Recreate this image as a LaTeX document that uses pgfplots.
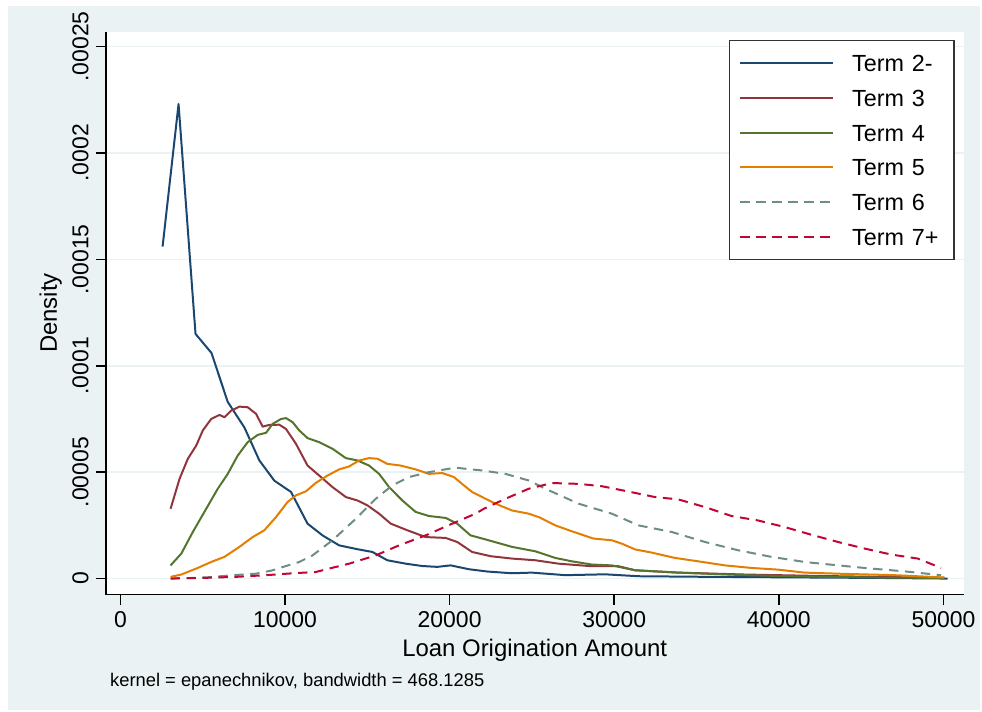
\documentclass[border=0pt]{standalone}
\usepackage{fontspec}
\setmainfont{Liberation Sans}
\usepackage{pgfplots}
\usepackage{pgfplotstable}
\pgfplotsset{compat=1.18}

% Stata s2color palette
\definecolor{stnavy}{RGB}{26,71,111}
\definecolor{stmaroon}{RGB}{144,53,59}
\definecolor{stgreen}{RGB}{85,117,47}
\definecolor{storange}{RGB}{227,126,0}
\definecolor{stteal}{RGB}{110,142,132}
\definecolor{stcran}{RGB}{193,5,52}
\definecolor{stbg}{RGB}{234,242,243}

% Kernel density estimates of loan origination amount, by term
\pgfplotstableread{
x y
2563 15.6e-5
3533 22.3e-5
4563 11.5e-5
5533 10.6e-5
6521 8.3e-5
7533 7.1e-5
8442 5.55e-5
9352 4.6e-5
10363 4.07e-5
11369 2.58e-5
12278 2.03e-5
13290 1.56e-5
14399 1.38e-5
15308 1.25e-5
16217 0.86e-5
17332 0.70e-5
18338 0.59e-5
19247 0.55e-5
20059 0.62e-5
21168 0.44e-5
22300 0.33e-5
23790 0.25e-5
25000 0.28e-5
27030 0.16e-5
29450 0.20e-5
31470 0.11e-5
35910 0.08e-5
41970 0.05e-5
46000 0.03e-5
50260 0.0
}\termtwo

\pgfplotstableread{
x y
3048 3.28e-5
3594 4.69e-5
4097 5.63e-5
4606 6.25e-5
5006 6.96e-5
5515 7.50e-5
6018 7.69e-5
6321 7.58e-5
6727 7.89e-5
7230 8.08e-5
7733 8.05e-5
8242 7.74e-5
8642 7.14e-5
9048 7.22e-5
9654 7.23e-5
10060 7.03e-5
10666 6.33e-5
11369 5.31e-5
12078 4.84e-5
12884 4.30e-5
13696 3.83e-5
14399 3.67e-5
15005 3.44e-5
15714 3.05e-5
16423 2.58e-5
17429 2.27e-5
18544 1.95e-5
19756 1.91e-5
20459 1.72e-5
21368 1.25e-5
22500 1.05e-5
23790 0.94e-5
25210 0.86e-5
26620 0.70e-5
28640 0.58e-5
30260 0.58e-5
31270 0.39e-5
33890 0.28e-5
37940 0.19e-5
41970 0.13e-5
46010 0.08e-5
50050 0.03e-5
}\termthree

\pgfplotstableread{
x y
3048 0.62e-5
3697 1.17e-5
4400 2.19e-5
5212 3.28e-5
5915 4.22e-5
6521 4.92e-5
7127 5.78e-5
7733 6.41e-5
8339 6.75e-5
8848 6.85e-5
9248 7.27e-5
9757 7.50e-5
10060 7.54e-5
10460 7.35e-5
10866 6.96e-5
11369 6.60e-5
12078 6.41e-5
12884 6.10e-5
13696 5.66e-5
14399 5.55e-5
15108 5.31e-5
15714 4.92e-5
16320 4.30e-5
17126 3.67e-5
17938 3.13e-5
18744 2.94e-5
19756 2.85e-5
20459 2.58e-5
21271 2.03e-5
22180 1.84e-5
23790 1.49e-5
25210 1.28e-5
26420 0.97e-5
27430 0.81e-5
28640 0.66e-5
29850 0.62e-5
31270 0.39e-5
33890 0.28e-5
37940 0.16e-5
41970 0.09e-5
46000 0.05e-5
50050 0.03e-5
}\termfour

\pgfplotstableread{
x y
3048 0.08e-5
3697 0.19e-5
4606 0.47e-5
5515 0.78e-5
6321 1.02e-5
7230 1.49e-5
8036 1.95e-5
8745 2.27e-5
9454 2.89e-5
10157 3.60e-5
10666 3.91e-5
11272 4.10e-5
11878 4.50e-5
12581 4.84e-5
13290 5.13e-5
13896 5.27e-5
14502 5.55e-5
15108 5.66e-5
15611 5.63e-5
16217 5.39e-5
17029 5.31e-5
17938 5.13e-5
18744 4.92e-5
19550 4.96e-5
20259 4.77e-5
20865 4.38e-5
21368 4.07e-5
22180 3.75e-5
22790 3.52e-5
23790 3.20e-5
24800 3.05e-5
25410 2.89e-5
26420 2.50e-5
27430 2.22e-5
28740 1.88e-5
29850 1.80e-5
30460 1.64e-5
31270 1.37e-5
32280 1.22e-5
33690 0.97e-5
35110 0.81e-5
36720 0.62e-5
38340 0.50e-5
39950 0.42e-5
41570 0.28e-5
44000 0.22e-5
47030 0.16e-5
50050 0.05e-5
}\termfive

\pgfplotstableread{
x y
3048 0.01e-5
4500 0.03e-5
5500 0.07e-5
6824 0.16e-5
8242 0.23e-5
9200 0.38e-5
10060 0.59e-5
10866 0.78e-5
11672 1.09e-5
12884 1.80e-5
14302 2.81e-5
15514 3.75e-5
16520 4.38e-5
17532 4.77e-5
18744 5.00e-5
19956 5.16e-5
20500 5.20e-5
20968 5.16e-5
21974 5.08e-5
23390 4.92e-5
24800 4.61e-5
25820 4.22e-5
27830 3.52e-5
29850 3.05e-5
31470 2.50e-5
33490 2.19e-5
35510 1.72e-5
37530 1.33e-5
39550 1.02e-5
41570 0.78e-5
43590 0.62e-5
45610 0.47e-5
47630 0.34e-5
49850 0.16e-5
}\termsix

\pgfplotstableread{
x y
3048 0.00
5000 0.03e-5
7000 0.08e-5
8848 0.16e-5
10500 0.25e-5
11878 0.31e-5
12684 0.47e-5
13896 0.70e-5
15514 1.09e-5
16926 1.56e-5
18544 2.03e-5
20156 2.58e-5
21574 3.05e-5
22080 3.28e-5
23390 3.75e-5
24800 4.22e-5
26220 4.49e-5
27830 4.45e-5
29250 4.34e-5
30860 4.09e-5
32480 3.83e-5
33890 3.72e-5
35510 3.36e-5
37120 2.94e-5
38740 2.73e-5
40360 2.42e-5
41970 2.06e-5
43590 1.72e-5
45210 1.41e-5
46820 1.13e-5
48440 0.94e-5
49850 0.50e-5
}\termseven

\begin{document}
\begin{tikzpicture}
% page and graph region
\fill[white] (0,0) rectangle (491pt,-356.5pt);
\fill[stbg] (4pt,-3pt) rectangle (491pt,-356pt);
\begin{axis}[
  at={(53pt,-298pt)}, anchor=south west,
  scale only axis, width=430pt, height=282.15pt,
  axis background/.style={fill=white},
  xmin=-891, xmax=51225,
  ymin=-0.75e-5, ymax=25.7e-5,
  axis x line*=bottom, axis y line*=left,
  axis line style={black, line width=0.8pt},
  tick style={black, line width=0.8pt},
  tick align=outside, major tick length=5pt,
  xtick={0,10000,20000,30000,40000,50000},
  xticklabels={0,10000,20000,30000,40000,50000},
  ytick={0,5e-5,10e-5,15e-5,20e-5,25e-5},
  yticklabels={0,.00005,.0001,.00015,.0002,.00025},
  scaled x ticks=false, scaled y ticks=false,
  /pgf/number format/assume math mode=true,
  xticklabel style={font=\fontsize{11.5}{13}\selectfont},
  yticklabel style={font=\fontsize{11.5}{13}\selectfont, rotate=90, anchor=south},
  ymajorgrids, grid style={stbg, line width=0.75pt},
  xlabel={Loan Origination Amount},
  ylabel={Density},
  xlabel style={font=\fontsize{12}{14}\selectfont, at={(axis description cs:0.5,-0.1099)}, anchor=base},
  ylabel style={font=\fontsize{12}{14}\selectfont, at={(axis description cs:-0.057,0.5)}, rotate=0, anchor=base},
  every axis plot/.append style={line width=1pt, line join=round},
  legend image code/.code={\draw[#1] (0pt,0pt) -- (46.5pt,0pt);},
  legend cell align=left,
  legend style={at={(axis description cs:0.9895,0.9853)}, anchor=north east,
    draw=black!80, line width=0.7pt, fill=white,
    inner xsep=5pt, inner ysep=7.2pt, row sep=9pt, column sep=9pt,
    nodes={inner sep=0pt, text height=8.4pt, text depth=0pt, anchor=west,
      text width=46pt, font=\fontsize{11.7}{14}\selectfont}},
]
\addplot[stnavy] table[x=x,y=y] {\termtwo};
\addlegendentry{Term 2-}
\addplot[stmaroon] table[x=x,y=y] {\termthree};
\addlegendentry{Term 3}
\addplot[stgreen] table[x=x,y=y] {\termfour};
\addlegendentry{Term 4}
\addplot[storange] table[x=x,y=y] {\termfive};
\addlegendentry{Term 5}
\addplot[stteal, dash pattern=on 4.7pt off 3.3pt] table[x=x,y=y] {\termsix};
\addlegendentry{Term 6}
\addplot[stcran, dash pattern=on 4.7pt off 3.3pt] table[x=x,y=y] {\termseven};
\addlegendentry{Term 7+}
\end{axis}
\node[anchor=base west, inner sep=0pt, font=\fontsize{9.2}{11}\selectfont] at (55pt,-344.2pt) {kernel = epanechnikov, bandwidth = 468.1285};
\end{tikzpicture}
\end{document}
